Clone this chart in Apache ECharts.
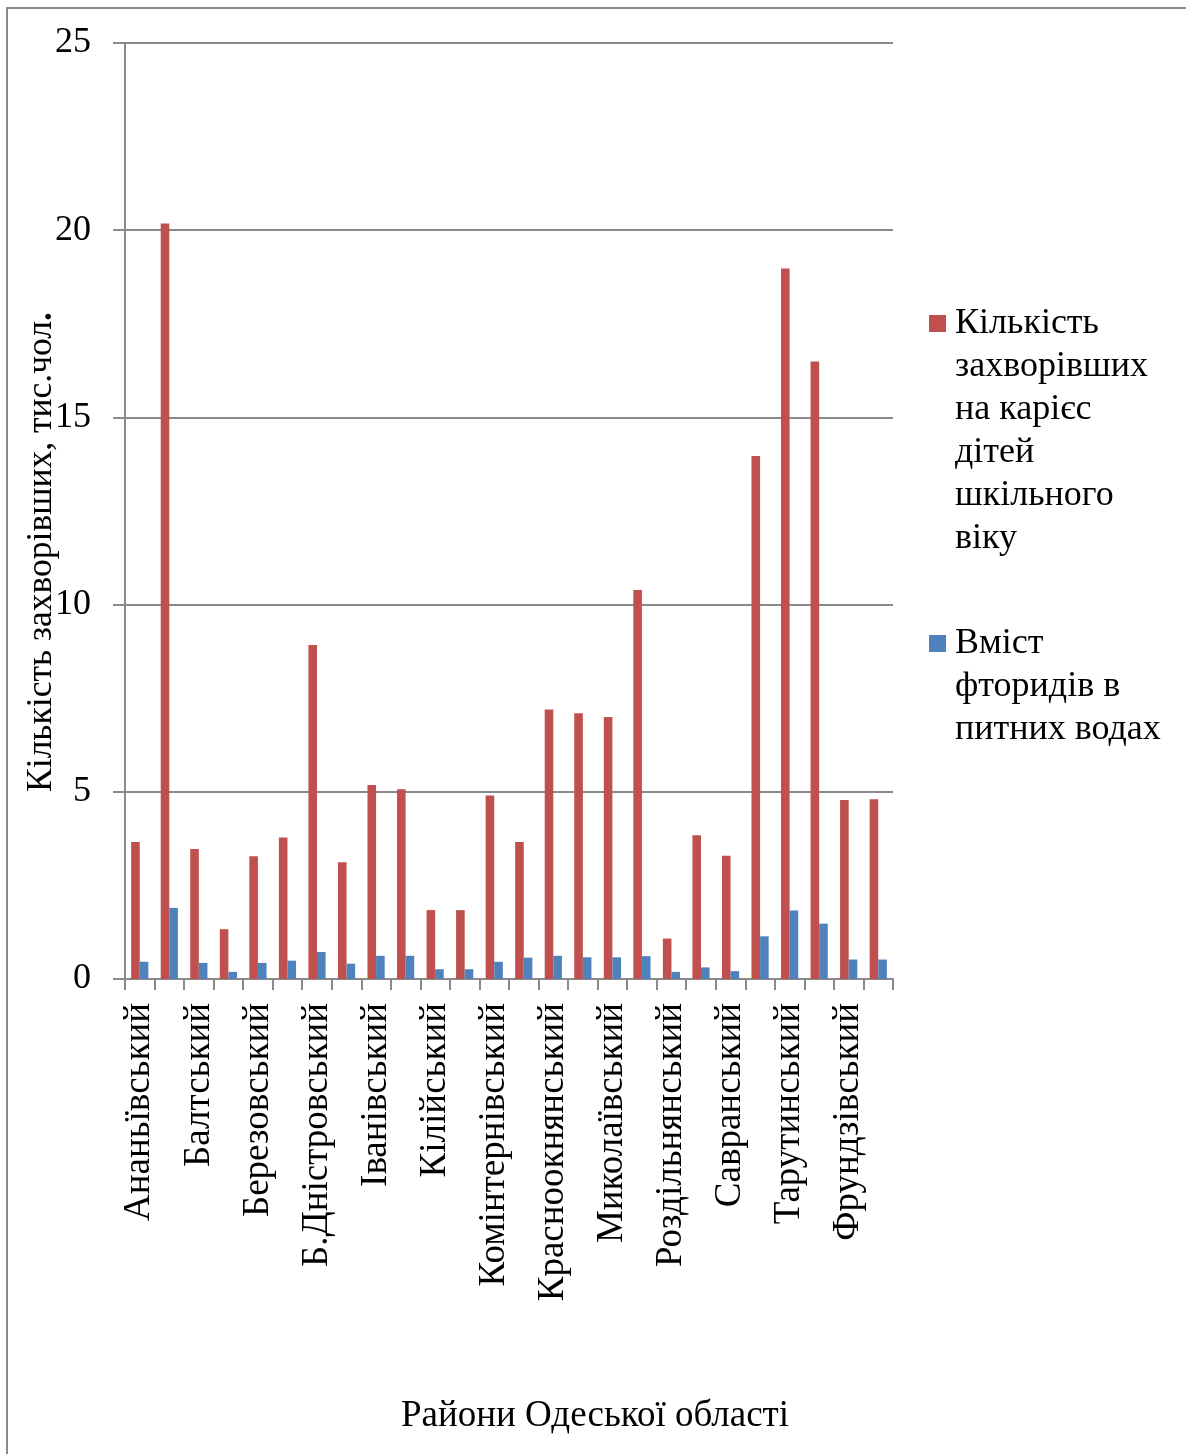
<!DOCTYPE html>
<html>
<head>
<meta charset="utf-8">
<script src="https://cdn.jsdelivr.net/npm/echarts@6/dist/echarts.min.js"></script>
<style>
html,body{margin:0;padding:0;background:#fff;}
#chart{width:1186px;height:1454px;}
</style>
</head>
<body>
<div id="chart"></div>
<script>
const categories = [
  'Ананьївський','Арцизький','Балтський','Біляївський','Березовський','Болградський',
  'Б.Дністровський','Великомихайлівський','Іванівський','Ізмаїльський','Кілійський','Кодимський',
  'Комінтернівський','Котовський','Красноокнянський','Любашівський','Миколаївський','Овідіопольський',
  'Роздільнянський','Ренійський','Савранський','Саратський','Тарутинський','Татарбунарський',
  'Фрундзівський','Ширяївський'
];
const seriesNames = [
  'Кількість захворівших на карієс дітей шкільного віку',
  'Вміст фторидів в питних водах'
];
const legendLines = [
  ['Кількість','захворівших','на карієс','дітей','шкільного','віку'],
  ['Вміст','фторидів в','питних водах']
];
const cariesValues = [3.66, 20.18, 3.47, 1.33, 3.28, 3.78, 8.92, 3.12, 5.18, 5.07, 1.84, 1.84, 4.9,
  3.66, 7.2, 7.1, 7.0, 10.39, 1.08, 3.84, 3.29, 13.97, 18.98, 16.49, 4.78, 4.8];
const fluorideValues = [0.46, 1.9, 0.43, 0.19, 0.43, 0.49, 0.72, 0.41, 0.62, 0.62, 0.26, 0.26, 0.46,
  0.57, 0.62, 0.58, 0.58, 0.61, 0.19, 0.31, 0.21, 1.14, 1.83, 1.48, 0.52, 0.52];
const yTicks = { min: 0, max: 25, interval: 5 };
const yAxisTitle = 'Кількість захворівших, тис.чол';
const xAxisTitle = 'Райони Одеської області';

const FONT = '"Liberation Serif", "Times New Roman", serif';
const GRAY = '#8a8a8a';
const colors = ['#C0504D', '#4F81BD'];

const chart = echarts.init(document.getElementById('chart'), null, { renderer: 'canvas' });

const option = {
  backgroundColor: '#fff',
  animation: false,
  textStyle: { fontFamily: FONT },
  grid: { left: 125, top: 43, width: 768, height: 936, containLabel: false },
  legend: {
    orient: 'vertical',
    left: 919,
    top: 297,
    icon: 'none',
    itemWidth: 0,
    itemHeight: 0,
    itemGap: 62,
    selectedMode: true,
    data: seriesNames,
    formatter: function (name) {
      const idx = seriesNames.indexOf(name);
      return legendLines[idx].map(function (l, i) {
        return (i === 0 ? '{sq' + idx + '|}{gap|}' : '{ind|}') + '{t|' + l + '}';
      }).join('\n');
    },
    textStyle: {
      fontFamily: FONT,
      fontSize: 36,
      lineHeight: 43,
      color: '#000',
      rich: {
        sq0: { width: 17, height: 17, backgroundColor: colors[0] },
        sq1: { width: 17, height: 17, backgroundColor: colors[1] },
        gap: { width: 9 },
        ind: { width: 26 },
        t: { fontFamily: FONT, fontSize: 36, lineHeight: 43, color: '#000' }
      }
    }
  },
  xAxis: {
    type: 'category',
    data: categories,
    boundaryGap: true,
    axisLine: { show: true, lineStyle: { color: GRAY, width: 2 } },
    axisTick: { show: true, interval: 0, length: 11, alignWithLabel: false, lineStyle: { color: GRAY, width: 2 } },
    axisLabel: {
      interval: 1,
      rotate: 90,
      margin: 24,
      fontFamily: FONT,
      fontSize: 37,
      color: '#000'
    },
    splitLine: { show: false }
  },
  yAxis: {
    type: 'value',
    min: yTicks.min,
    max: yTicks.max,
    interval: yTicks.interval,
    axisLine: { show: true, lineStyle: { color: GRAY, width: 2 } },
    axisTick: { show: true, length: 12, lineStyle: { color: GRAY, width: 2 } },
    axisLabel: { margin: 34, fontFamily: FONT, fontSize: 36, color: '#000' },
    splitLine: { show: true, lineStyle: { color: GRAY, width: 2 } }
  },
  series: [
    {
      name: seriesNames[0],
      type: 'bar',
      data: cariesValues,
      barWidth: 8.6,
      barGap: '0%',
      itemStyle: { color: colors[0] }
    },
    {
      name: seriesNames[1],
      type: 'bar',
      data: fluorideValues,
      barWidth: 8.6,
      barGap: '0%',
      itemStyle: { color: colors[1] }
    }
  ],
  graphic: [
    { type: 'line', shape: { x1: 6, y1: 8, x2: 1186, y2: 8 }, style: { stroke: GRAY, lineWidth: 2 }, silent: true },
    { type: 'line', shape: { x1: 7, y1: 8, x2: 7, y2: 1454 }, style: { stroke: GRAY, lineWidth: 2 }, silent: true },
    {
      type: 'text',
      x: 42, y: 552,
      rotation: Math.PI / 2,
      style: {
        text: '{a|' + yAxisTitle + '}{b|.}',
        align: 'center',
        verticalAlign: 'middle',
        rich: {
          a: { fontFamily: FONT, fontSize: 35.5, fill: '#000', color: '#000' },
          b: { fontFamily: FONT, fontSize: 35.5, fontWeight: 'bold', fill: '#000', color: '#000' }
        }
      }
    },
    {
      type: 'text',
      x: 595, y: 1416,
      style: {
        text: xAxisTitle,
        align: 'center',
        verticalAlign: 'middle',
        fontFamily: FONT,
        fontSize: 37,
        fill: '#000'
      }
    }
  ]
};
chart.setOption(option);
</script>
</body>
</html>
